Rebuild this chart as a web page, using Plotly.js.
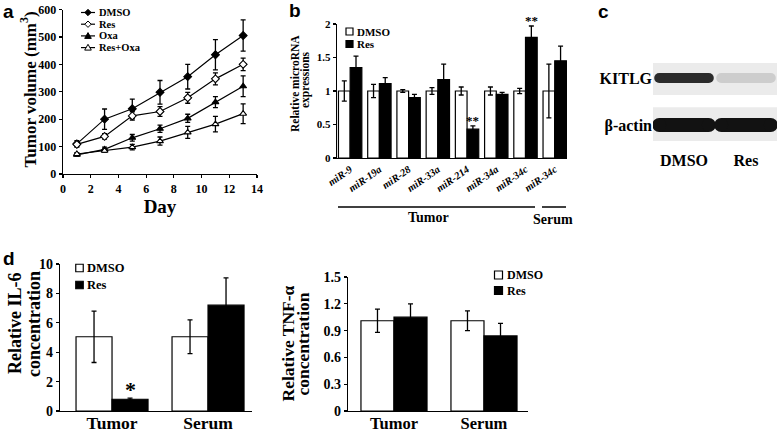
<!DOCTYPE html>
<html><head><meta charset="utf-8">
<script src="https://cdn.plot.ly/plotly-3.0.1.min.js"></script>
<style>body{margin:0;background:#fff}#chart{width:778px;height:434px}</style>
</head><body><div id="chart"></div>
<script>
// ---------- Panel a: tumor volume ----------
const days = [1, 3, 5, 7, 9, 11, 13];
const dmsoVol = [110, 200, 238, 298, 355, 435, 505];
const dmsoVolErr = [12, 37, 35, 43, 45, 55, 57];
const resVol = [108, 137, 212, 228, 278, 347, 400];
const resVolErr = [8, 10, 15, 18, 20, 22, 23];
const oxaVol = [70, 90, 132, 165, 203, 262, 320];
const oxaVolErr = [5, 8, 12, 13, 15, 20, 38];
const resOxaVol = [73, 85, 98, 120, 152, 182, 220];
const resOxaVolErr = [5, 6, 10, 15, 22, 28, 36];
const volSeriesNames = ['DMSO', 'Res', 'Oxa', 'Res+Oxa'];

// ---------- Panel b: microRNA expression ----------
const mirLabels = ['miR-9', 'miR-19a', 'miR-28', 'miR-33a', 'miR-214', 'miR-34a', 'miR-34c', 'miR-34c'];
const mirDmso = [1, 1, 1, 1, 1, 1, 1, 1];
const mirDmsoErr = [0.15, 0.1, 0.02, 0.05, 0.06, 0.06, 0.04, 0.4];
const mirRes = [1.35, 1.11, 0.9, 1.17, 0.43, 0.95, 1.8, 1.45];
const mirResErr = [0.17, 0.09, 0.05, 0.23, 0.05, 0.03, 0.17, 0.22];
const mirStars = ['', '', '', '', '**', '', '**', ''];
const barSeriesNames = ['DMSO', 'Res'];

// ---------- Panel c: western blot ----------
const blotLanes = ['DMSO', 'Res'];
const blotProteins = ['β-actin', 'KITLG'];
const kitlgIntensity = [0.88, 0.1];
const actinIntensity = [1.0, 1.0];

// ---------- Panel d: cytokines ----------
const sampleGroups = ['Tumor', 'Serum'];
const il6Dmso = [5.05, 5.05];
const il6DmsoErr = [1.75, 1.15];
const il6Res = [0.8, 7.2];
const il6ResErr = [0.08, 1.85];
const il6Stars = ['*', ''];
const tnfDmso = [1.01, 1.01];
const tnfDmsoErr = [0.13, 0.11];
const tnfRes = [1.05, 0.84];
const tnfResErr = [0.15, 0.14];

// ---------- helpers ----------
const W = 778, H = 434;
const SERIF = 'Liberation Serif, Times New Roman, serif';
const SANS = 'Liberation Sans, Arial, sans-serif';
const xd = (a, b) => [a / W, b / W];
const yd = (top, bottom) => [1 - bottom / H, 1 - top / H];
const px = v => v / W;
const py = v => 1 - v / H;
const font = (size, extra) => Object.assign({family: SERIF, size: size, weight: 700, color: '#000'}, extra || {});

const ax = extra => Object.assign({
  showline: true, linecolor: '#000', linewidth: 1.3,
  ticks: 'outside', ticklen: 3, tickwidth: 1.2, tickcolor: '#000',
  showgrid: false, zeroline: false, fixedrange: true,
  tickfont: font(12)
}, extra);

const errStyle = arr => ({type: 'data', array: arr, visible: true, color: '#000', thickness: 1.3, width: 2.5});

const traces = [];
const annotations = [];
const shapes = [];

// Panel a lines
const lineSeries = [
  {y: dmsoVol, e: dmsoVolErr, sym: 'diamond', fill: '#000'},
  {y: resVol, e: resVolErr, sym: 'diamond', fill: '#fff'},
  {y: oxaVol, e: oxaVolErr, sym: 'triangle-up', fill: '#000'},
  {y: resOxaVol, e: resOxaVolErr, sym: 'triangle-up', fill: '#fff'}
];
lineSeries.forEach((s, k) => traces.push({
  type: 'scatter', mode: 'lines+markers', name: volSeriesNames[k], x: days, y: s.y,
  xaxis: 'x', yaxis: 'y', showlegend: false,
  line: {color: '#000', width: 1.2},
  marker: {symbol: s.sym, size: 6, color: s.fill, line: {color: '#000', width: 1.1}},
  error_y: errStyle(s.e), hoverinfo: 'skip'
}));

// Bar helper
function barPair(cats, dm, dmE, rs, rsE, w, xa, ya) {
  const xs = cats.map((_, i) => i);
  traces.push({type: 'bar', name: barSeriesNames[0], x: xs, y: dm, offset: -w, width: w,
    marker: {color: '#fff', line: {color: '#000', width: 1.2}}, showlegend: false,
    error_y: errStyle(dmE), xaxis: xa, yaxis: ya, hoverinfo: 'skip'});
  traces.push({type: 'bar', name: barSeriesNames[1], x: xs, y: rs, offset: 0, width: w,
    marker: {color: '#000', line: {color: '#000', width: 1.2}}, showlegend: false,
    error_y: errStyle(rsE), xaxis: xa, yaxis: ya, hoverinfo: 'skip'});
}
barPair(mirLabels, mirDmso, mirDmsoErr, mirRes, mirResErr, 0.40, 'x2', 'y2');
barPair(sampleGroups, il6Dmso, il6DmsoErr, il6Res, il6ResErr, 0.375, 'x3', 'y3');
barPair(sampleGroups, tnfDmso, tnfDmsoErr, tnfRes, tnfResErr, 0.367, 'x4', 'y4');

// Panel c blot bands (intensity -> grey level)
const bandRows = [
  {row: 1, vals: kitlgIntensity, width: 10},
  {row: 0, vals: actinIntensity, width: 14}
];
bandRows.forEach(r => r.vals.forEach((v, lane) => {
  const g = Math.round(226 - v * (226 - 18));
  const col = `rgb(${g},${g},${g})`;
  traces.push({type: 'scatter', mode: 'lines+markers', x: [lane - 0.4, lane + 0.4], y: [r.row, r.row],
    xaxis: 'x5', yaxis: 'y5', showlegend: false, hoverinfo: 'skip',
    line: {color: col, width: r.width}, marker: {color: col, size: r.width, line: {width: 0}}});
}));

// ----- text helpers -----
const txt = (t, x, y, size, extra) => annotations.push(Object.assign({text: t, xref: 'paper', yref: 'paper',
  x: px(x), y: py(y), xanchor: 'center', yanchor: 'middle', showarrow: false, borderpad: 0, font: font(size)}, extra || {}));
const vtxt = (t, x, y, size) => txt(t, x, y, size, {textangle: -90});
const letter = (t, x, y) => txt(t, x, y, 19, {xanchor: 'left', font: {family: SANS, size: 19, weight: 700, color: '#000'}});
letter('a', 2, 12); letter('b', 288, 10); letter('c', 597, 12); letter('d', 2, 258);

// y-axis titles
vtxt('Tumor volume (mm<sup>3</sup>)', 28.5, 90, 17);
vtxt('Relative microRNA', 295, 84, 11.5);
vtxt('expressions', 306, 80, 11.5);
vtxt('Relative IL-6', 15, 324, 18);
vtxt('concentration', 34, 324, 18);
vtxt('Relative TNF-α', 287.5, 344, 17.5);
vtxt('concentration', 302.5, 344, 17.5);

// significance stars
mirStars.forEach((s, i) => { if (s) annotations.push({text: s, xref: 'x2', yref: 'y2', x: i + 0.2,
  y: mirRes[i] + mirResErr[i], yanchor: 'bottom', yshift: -4, showarrow: false, font: font(13)}); });
il6Stars.forEach((s, i) => { if (s) annotations.push({text: s, xref: 'x3', yref: 'y3', x: i + 0.1875,
  y: il6Res[i] + il6ResErr[i], yanchor: 'bottom', yshift: -6, showarrow: false, font: font(22)}); });

// panel b group labels
txt('Tumor', 429, 217, 14);
txt('Serum', 553, 219, 14);
const hline = (x0, x1, y, w) => shapes.push({type: 'line', xref: 'paper', yref: 'paper', x0: px(x0), x1: px(x1),
  y0: py(y), y1: py(y), line: {color: '#000', width: w}});
hline(338, 535, 207, 1.5);
hline(542, 566, 207, 1.5);

// blot backgrounds
shapes.push({type: 'rect', xref: 'x5', yref: 'y5', x0: -0.52, x1: 1.5, y0: 0.64, y1: 1.32, fillcolor: '#ebebeb', line: {width: 0}, layer: 'below'});
shapes.push({type: 'rect', xref: 'x5', yref: 'y5', x0: -0.52, x1: 1.5, y0: -0.34, y1: 0.38, fillcolor: '#ebebeb', line: {width: 0}, layer: 'below'});

// ----- legends (drawn as keys) -----
const pathShape = (pts, fill) => shapes.push({type: 'path', xref: 'paper', yref: 'paper',
  path: 'M' + pts.map(p => px(p[0]) + ',' + py(p[1])).join('L') + 'Z',
  fillcolor: fill, line: {color: '#000', width: 1}});
const rectShape = (x, y, s, fill) => shapes.push({type: 'rect', xref: 'paper', yref: 'paper',
  x0: px(x - s / 2), x1: px(x + s / 2), y0: py(y + s / 2), y1: py(y - s / 2), fillcolor: fill, line: {color: '#000', width: 1.2}});

// panel a key
const keyRowsA = [12.5, 24.2, 35.9, 47.6];
lineSeries.forEach((s, k) => {
  const y = keyRowsA[k], cx = 88;
  hline(81, 95, y, 1.2);
  if (s.sym === 'diamond') pathShape([[cx, y - 3.2], [cx + 3.2, y], [cx, y + 3.2], [cx - 3.2, y]], s.fill);
  else pathShape([[cx, y - 3.3], [cx + 3.3, y + 2.5], [cx - 3.3, y + 2.5]], s.fill);
  txt(volSeriesNames[k], 98, y, 10.5, {xanchor: 'left'});
});
// bar keys
const barKey = (x, ys, size, fs, gap) => barSeriesNames.forEach((n, k) => {
  rectShape(x, ys[k], size, k === 0 ? '#fff' : '#000');
  txt(n, x + size / 2 + gap, ys[k], fs, {xanchor: 'left'});
});
barKey(349.5, [31.5, 44], 7, 11, 3);
barKey(79.5, [268, 285], 7.5, 12.5, 3);
barKey(498.5, [275, 290.5], 8, 12, 3.5);

const layout = {
  width: W, height: H, margin: {l: 0, r: 0, t: 0, b: 0},
  paper_bgcolor: '#fff', plot_bgcolor: 'rgba(0,0,0,0)',
  barmode: 'overlay', showlegend: false,
  font: font(12),
  xaxis: ax({domain: xd(63, 257), range: [0, 14], dtick: 2, anchor: 'y',
    title: {text: 'Day', font: font(19), standoff: 2}}),
  yaxis: ax({domain: yd(9.5, 174), range: [0, 600], dtick: 100, anchor: 'x'}),
  xaxis2: ax({domain: xd(337, 567), range: [-0.45, 7.42], anchor: 'y2', ticks: '',
    tickvals: mirLabels.map((_, i) => i), ticktext: mirLabels, tickangle: -35,
    tickfont: font(10.5, {style: 'italic'})}),
  yaxis2: ax({domain: yd(24, 158), range: [0, 2], dtick: 0.5, anchor: 'x2', tickfont: font(11)}),
  xaxis3: ax({domain: xd(60, 252), range: [-0.542, 1.458], anchor: 'y3', ticks: '',
    tickvals: [0, 1], ticktext: sampleGroups, tickfont: font(17.5), ticklabelstandoff: -4}),
  yaxis3: ax({domain: yd(264, 411), range: [0, 10], dtick: 2, anchor: 'x3', tickfont: font(14)}),
  xaxis4: ax({domain: xd(348, 528), range: [-0.511, 1.489], anchor: 'y4', ticks: '',
    tickvals: [0, 1], ticktext: sampleGroups, tickfont: font(16.5), ticklabelstandoff: -3}),
  yaxis4: ax({domain: yd(277, 411), range: [0, 1.5], tickvals: [0, 0.3, 0.6, 0.9, 1.2, 1.5],
    ticktext: ['0', '0.3', '0.6', '0.9', '1.2', '1.5'], anchor: 'x4', tickfont: font(14)}),
  xaxis5: {domain: xd(653, 777), range: [-0.5, 1.5], anchor: 'y5', showline: false, showgrid: false,
    zeroline: false, ticks: '', tickvals: [0, 1], ticktext: blotLanes, tickfont: font(16), fixedrange: true},
  yaxis5: {domain: yd(54.5, 148.5), range: [-0.5, 1.5], anchor: 'x5', showline: false, showgrid: false,
    zeroline: false, ticks: '', tickvals: [0, 1], ticktext: blotProteins, tickfont: font(16), fixedrange: true},
  annotations: annotations,
  shapes: shapes
};

Plotly.newPlot('chart', traces, layout, {displayModeBar: false, staticPlot: true});
</script>
</body></html>
